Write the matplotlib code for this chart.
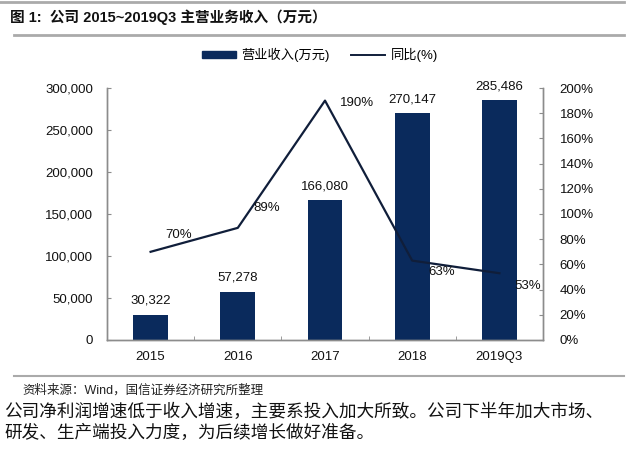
import matplotlib
matplotlib.use("Agg")
import matplotlib.pyplot as plt
from matplotlib.lines import Line2D
from matplotlib.patches import Patch
from matplotlib.ticker import FuncFormatter, FixedLocator

plt.rcParams['font.family'] = ['Liberation Sans', 'Noto Sans CJK SC', 'DejaVu Sans']

categories = ['2015', '2016', '2017', '2018', '2019Q3']
revenue = [30322, 57278, 166080, 270147, 285486]
yoy = [70, 89, 190, 63, 53]
yoy_labels = ['70%', '89%', '190%', '63%', '53%']
rev_labels = ['30,322', '57,278', '166,080', '270,147', '285,486']
left_ticks = [0, 50000, 100000, 150000, 200000, 250000, 300000]
right_ticks = [0, 20, 40, 60, 80, 100, 120, 140, 160, 180, 200]

bar_color = '#0A2A5C'
line_color = '#101E3A'
spine_color = '#8C8C8C'
text_color = '#111111'

fig = plt.figure(figsize=(6.4, 4.74), dpi=100)
ax = fig.add_axes([107/640, 1-340/474, (543-107)/640, (340-88)/474])
ax2 = ax.twinx()

x = list(range(len(categories)))
ax.bar(x, revenue, width=0.4, color=bar_color, zorder=2)
ax.set_xlim(-0.5, len(categories) - 0.5)
ax.set_ylim(0, 300000)
ax.set_yticks(left_ticks)
ax.yaxis.set_major_formatter(FuncFormatter(lambda v, p: f"{int(v):,}"))
ax.set_xticks(x)
ax.set_xticklabels(categories)
ax.xaxis.set_minor_locator(FixedLocator([i + 0.5 for i in range(len(categories) - 1)]))

ax2.plot(x, yoy, color=line_color, lw=1.6, zorder=3)
ax2.set_ylim(0, 200)
ax2.set_yticks(right_ticks)
ax2.yaxis.set_major_formatter(FuncFormatter(lambda v, p: f"{int(v)}%"))

for a in (ax, ax2):
    a.spines['top'].set_visible(False)
    for s in ('left', 'right', 'bottom'):
        a.spines[s].set_color(spine_color)
        a.spines[s].set_linewidth(1.0)
    a.set_zorder(1)
ax2.set_zorder(2)
ax.patch.set_visible(False)

ax.tick_params(axis='y', direction='in', length=3, color=spine_color, labelsize=9.5, labelcolor=text_color, pad=10)
ax.tick_params(axis='x', which='major', length=0, labelsize=9.5, labelcolor=text_color, pad=8)
ax.tick_params(axis='x', which='minor', direction='in', length=3, color=spine_color)
ax2.tick_params(axis='y', direction='in', length=3, color=spine_color, labelsize=9.5, labelcolor=text_color, pad=12)

for xi, v, lab in zip(x, revenue, rev_labels):
    ax.annotate(lab, (xi, v), xytext=(0, 14), textcoords='offset pixels',
                ha='center', va='center', fontsize=9.5, color=text_color)

offsets = [(28, 17), (29, 20), (32, -2), (29, -11), (28, -13)]
for xi, v, lab, off in zip(x, yoy, yoy_labels, offsets):
    ax2.annotate(lab, (xi, v), xytext=off, textcoords='offset pixels',
                 ha='center', va='center', fontsize=9.5, color=text_color)

handles = [Patch(facecolor=bar_color, edgecolor=bar_color),
           Line2D([0], [0], color=line_color, lw=1.4)]
fig.legend(handles, ['营业收入(万元)', '同比(%)'], loc='center', bbox_to_anchor=(0.5, 1-55/474),
           ncol=2, frameon=False, fontsize=9.5, handlelength=2.6, handleheight=0.5,
           columnspacing=1.6, handletextpad=0.4)

# header
fig.add_artist(Line2D([0.0, 0.975], [1-1.5/474, 1-1.5/474], color='#AAAAAA', lw=2))
fig.text(10/640, 1-17/474, '图 1:  公司 2015~2019Q3 主营业务收入（万元）', fontsize=10.5,
         fontweight='bold', ha='left', va='center', color='#111111')
fig.add_artist(Line2D([0.022, 0.975], [1-35/474, 1-35/474], color='#AAAAAA', lw=2))

# footer
fig.add_artist(Line2D([0.022, 0.975], [1-376/474, 1-376/474], color='#AAAAAA', lw=1.5))
fig.text(22/640, 1-390/474, '资料来源：Wind，国信证券经济研究所整理', fontsize=9,
         ha='left', va='center', color='#222222')
fig.text(4/640, 1-412/474, '公司净利润增速低于收入增速，主要系投入加大所致。公司下半年加大市场、',
         fontsize=12.7, ha='left', va='center', color='#111111')
fig.text(4/640, 1-433/474, '研发、生产端投入力度，为后续增长做好准备。',
         fontsize=12.7, ha='left', va='center', color='#111111')

fig.savefig('out.png', dpi=100)
